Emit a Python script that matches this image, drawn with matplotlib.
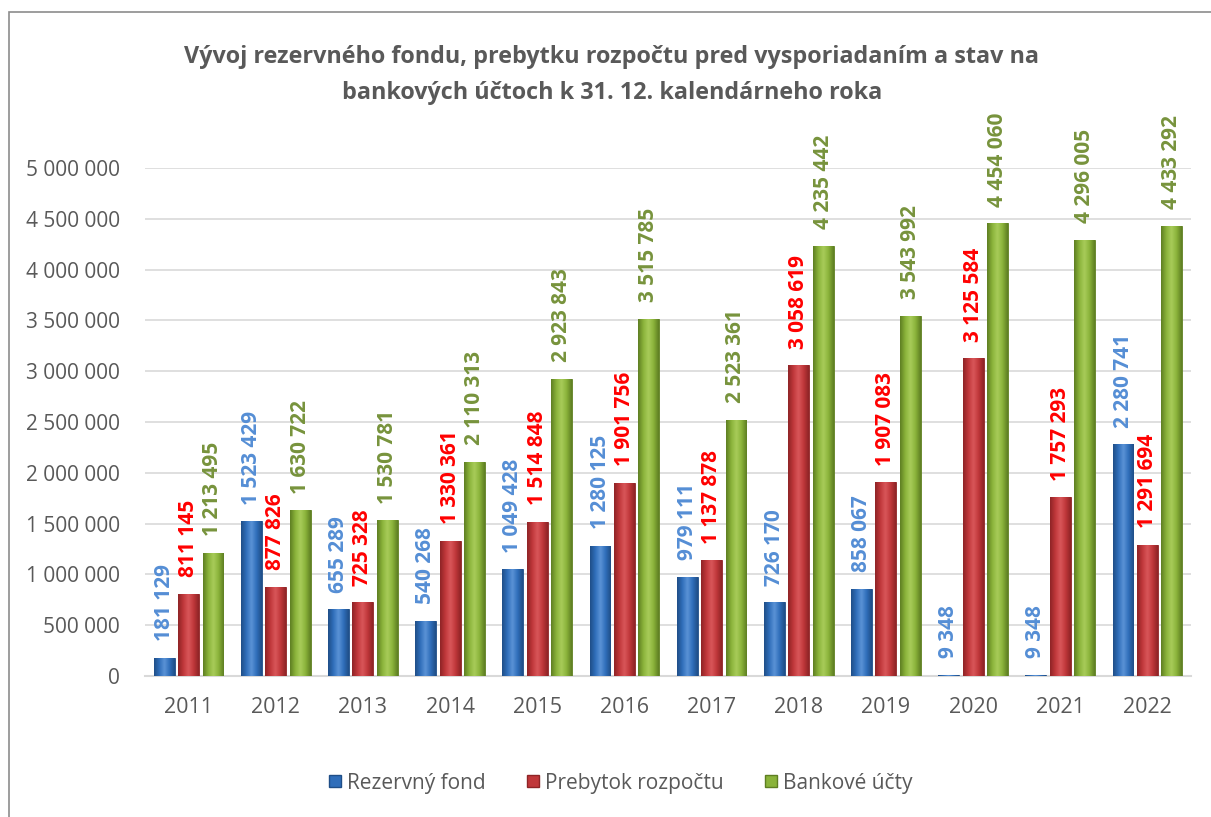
import matplotlib
matplotlib.use("Agg")
import matplotlib.pyplot as plt
import numpy as np
from matplotlib.patches import Rectangle, Patch
from matplotlib.colors import LinearSegmentedColormap
from matplotlib.ticker import FuncFormatter, MultipleLocator

plt.rcParams['font.family'] = ['Open Sans', 'DejaVu Sans']

years = ["2011", "2012", "2013", "2014", "2015", "2016", "2017", "2018", "2019", "2020", "2021", "2022"]
rezervny_fond = [181129, 1523429, 655289, 540268, 1049428, 1280125, 979111, 726170, 858067, 9348, 9348, 2280741]
prebytok = [811145, 877826, 725328, 1330361, 1514848, 1901756, 1137878, 3058619, 1907083, 3125584, 1757293, 1291694]
bankove = [1213495, 1630722, 1530781, 2110313, 2923843, 3515785, 2523361, 4235442, 3543992, 4454060, 4296005, 4433292]
series_names = ["Rezervný fond", "Prebytok rozpočtu", "Bankové účty"]

W, H = 1211, 817
fig = plt.figure(figsize=(W / 100, H / 100), dpi=100)
fig.patch.set_facecolor("white")

# outer chart border
fig.patches.append(Rectangle((9 / W, -0.02), 1.05, 1 - 12 / H + 0.02, transform=fig.transFigure,
                             fill=False, edgecolor="#8C8C8C", linewidth=1.2))

ax = fig.add_axes([145 / W, 1 - 676 / H, (1191 - 145) / W, (676 - 168) / H])

series = [rezervny_fond, prebytok, bankove]
base_colors = ["#2F6EBA", "#C0373A", "#8AB33A"]
dark_colors = ["#1F4E87", "#8E2426", "#5E7E22"]
light_colors = ["#5B93D6", "#D9575A", "#A9CC5A"]
label_colors = ["#558ED5", "#FF0000", "#77933C"]

x = np.arange(len(years))
bw = 0.24
offsets = [-0.28, 0.0, 0.28]

def fmt(v):
    return f"{int(v):,}".replace(",", " ")

for s, vals in enumerate(series):
    cmap = LinearSegmentedColormap.from_list(
        f"g{s}", [dark_colors[s], base_colors[s], light_colors[s], base_colors[s], dark_colors[s]])
    bars = ax.bar(x + offsets[s], vals, width=bw, color=base_colors[s],
                  edgecolor=dark_colors[s], linewidth=0.6, zorder=3)
    grad = np.linspace(0, 1, 64).reshape(1, -1)
    for b in bars:
        x0, y0 = b.get_x(), b.get_y()
        w, h = b.get_width(), b.get_height()
        im = ax.imshow(grad, cmap=cmap, aspect="auto", extent=(x0, x0 + w, y0, y0 + h),
                       zorder=3.5, interpolation="bicubic")
        im.set_clip_path(b)
    for xi, v in zip(x + offsets[s], vals):
        ax.annotate(fmt(v), (xi, v), xytext=(0, 12), textcoords="offset points",
                    rotation=90, ha="center", va="bottom", fontsize=15, fontweight="bold",
                    color=label_colors[s], zorder=5, annotation_clip=False)

ax.set_xlim(-0.5, 11.5)
ax.set_ylim(0, 5000000)
ax.yaxis.set_major_locator(MultipleLocator(500000))
ax.yaxis.set_major_formatter(FuncFormatter(lambda v, p: fmt(v)))
ax.set_xticks(x)
ax.set_xticklabels(years)
ax.tick_params(axis="both", length=0, labelsize=15, colors="#595959")
ax.tick_params(axis="x", labelsize=15.5, pad=15)
ax.tick_params(axis="y", pad=18)
ax.grid(axis="y", color="#D9D9D9", linewidth=1.2, zorder=0)
ax.set_axisbelow(True)
for sp in ["top", "right", "left"]:
    ax.spines[sp].set_visible(False)
ax.spines["bottom"].set_color("#D9D9D9")
ax.spines["bottom"].set_linewidth(1.5)

fig.text(612 / W, 1 - 75 / H,
         "Vývoj rezervného fondu, prebytku rozpočtu pred vysporiadaním a stav na\nbankových účtoch k 31. 12. kalendárneho roka",
         ha="center", va="center", fontsize=16.8, fontweight="bold", color="#595959", linespacing=1.68)

handles = [Patch(facecolor=base_colors[i], edgecolor=dark_colors[i], label=series_names[i]) for i in range(3)]
fig.legend(handles=handles, loc="center", bbox_to_anchor=(621 / W, 1 - 783 / H), ncol=3,
           frameon=False, fontsize=15, labelcolor="#595959", handlelength=0.55, handleheight=0.55,
           handletextpad=0.3, columnspacing=2.0)

fig.savefig("out.png", dpi=100)
